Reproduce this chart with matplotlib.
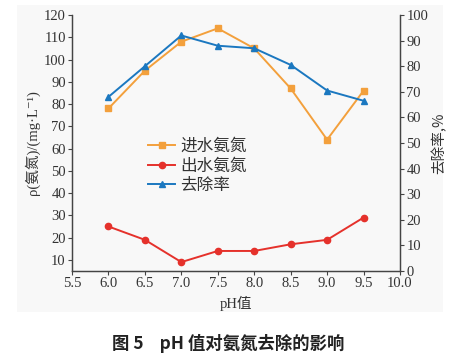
import matplotlib
matplotlib.use("Agg")
import matplotlib.pyplot as plt
from matplotlib.patches import Rectangle

ph = [6.0, 6.5, 7.0, 7.5, 8.0, 8.5, 9.0, 9.5]
influent = [78, 95, 108, 114, 105, 87, 64, 86]
effluent = [25, 19, 9, 14, 14, 17, 19, 29]
removal = [68, 80, 92, 88, 87, 80.5, 70.5, 66.5]

left_ticks = list(range(10, 121, 10))
right_ticks = list(range(0, 101, 10))
x_ticks = [5.5, 6.0, 6.5, 7.0, 7.5, 8.0, 8.5, 9.0, 9.5, 10.0]

serif = ['Liberation Serif', 'Noto Sans CJK SC', 'DejaVu Serif']
cjk = ['Noto Sans CJK SC', 'Liberation Serif', 'DejaVu Serif']
plt.rcParams['font.family'] = serif

c_in = '#f3a03c'
c_out = '#e5312b'
c_rm = '#1b78c0'
spine_c = '#444444'

fig = plt.figure(figsize=(4.57, 3.58), dpi=100)
fig.patches.append(Rectangle((17/457, 1-312/358), (443-17)/457, (312-5)/358,
                             transform=fig.transFigure, facecolor='#f8f8f8',
                             edgecolor='none', zorder=-10))

ax = fig.add_axes([72/457, 1-271/358, (400-72)/457, (271-15)/358])
ax.patch.set_alpha(0)
ax2 = ax.twinx()
ax2.patch.set_alpha(0)

l1, = ax.plot(ph, influent, color=c_in, marker='s', markersize=4.5, lw=1.4, label='进水氨氮')
l2, = ax.plot(ph, effluent, color=c_out, marker='o', markersize=4.5, lw=1.4, label='出水氨氮')
l3, = ax2.plot(ph, removal, color=c_rm, marker='^', markersize=5, lw=1.4, label='去除率')

ax.set_xlim(5.5, 10.0)
ax.set_ylim(5, 120)
ax2.set_ylim(0, 100)
ax.set_xticks(x_ticks)
ax.set_xticklabels([f'{v:.1f}' for v in x_ticks])
ax.set_yticks(left_ticks)
ax2.set_yticks(right_ticks)

for a in (ax, ax2):
    a.spines['top'].set_visible(False)
    for s in ('left', 'right', 'bottom'):
        a.spines[s].set_color(spine_c)
        a.spines[s].set_linewidth(0.9)
    a.tick_params(direction='out', length=3, width=0.8, color=spine_c,
                  labelsize=10.5, labelcolor='#333333', pad=1.5)

ax.set_xlabel('pH值', fontsize=10.5, color='#333333', labelpad=4, family=serif)
ax.set_ylabel('ρ(氨氮)/(mg·L⁻¹)', fontsize=10.5, color='#333333',
              labelpad=3, family=serif)
ax2.set_ylabel('去除率,%', fontsize=10.5, color='#333333', labelpad=2, family=cjk)

leg = ax.legend(handles=[l1, l2, l3], loc='center left', bbox_to_anchor=(0.207, 0.41),
                frameon=False, prop={'family': cjk, 'size': 12},
                handlelength=1.6, handletextpad=0.3, labelspacing=0.15, borderpad=0)
for t in leg.get_texts():
    t.set_color('#333333')

fig.text(0.5, 1-343/358, '图 5    pH 值对氨氮去除的影响', ha='center', va='center',
         fontsize=12.5, fontweight='bold', family=cjk, color='#222222')

fig.savefig('out.png', dpi=100, facecolor='white')
